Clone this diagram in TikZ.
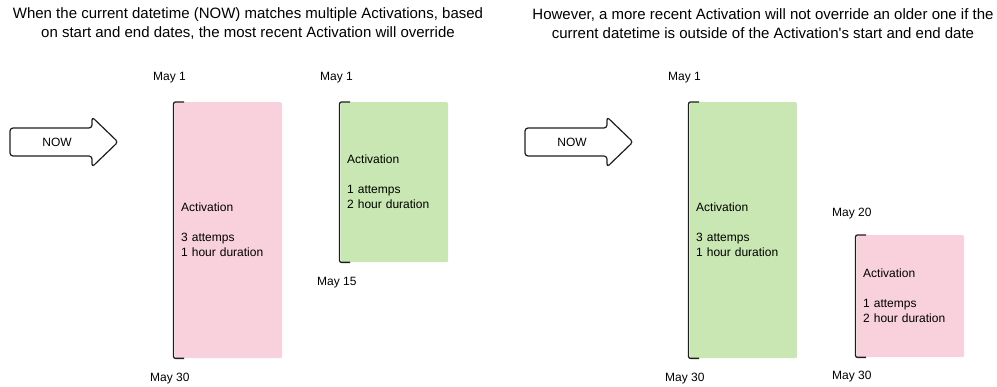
\documentclass[tikz,border=0pt]{standalone}
\usepackage{fontspec}
\setmainfont{Liberation Sans}
\usetikzlibrary{positioning,calc}
\definecolor{actpink}{HTML}{F8D1DD}
\definecolor{actgreen}{HTML}{C9E7B2}
\definecolor{inkgray}{HTML}{1E1E1E}
% bracket on the left side of an activation box
\newcommand{\datebracket}[1]{\draw[bracket] ([xshift=9pt]#1.north west) -- ([xshift=-1.5pt]#1.north west) -- ([xshift=-1.5pt]#1.south west) -- ([xshift=9pt]#1.south west);}
% the NOW arrow around a node
\newcommand{\nowarrow}[1]{\draw[nowshape] ([shift={(-47,-14)}]#1.center) -- ++(82,0) -- ++(0,-11) -- ++(26,25) -- ++(-26,25) -- ++(0,-11) -- ++(-82,0) -- cycle;}

\begin{document}
\begin{tikzpicture}[x=1pt,y=-1pt,
  act/.style={rectangle,rounded corners=2pt,minimum width=107pt,text width=95pt,inner sep=6pt,align=left,font=\fontsize{12}{15}\selectfont},
  datelbl/.style={inner sep=0pt,anchor=west,font=\fontsize{12}{14}\selectfont},
  titletext/.style={align=center,inner sep=0pt,font=\fontsize{15}{19}\selectfont},
  bracket/.style={draw=inkgray,line width=1.3pt,rounded corners=2pt},
  nowshape/.style={draw=inkgray,line width=1.2pt,rounded corners=3pt,line join=round}]
\useasboundingbox (0,0) rectangle (997,387);

\node[titletext](lefttitle) at (248,23.5) {When the current datetime (NOW) matches multiple Activations, based\\on start and end dates, the most recent Activation will override};
\node[titletext](righttitle) at (763,23.5) {However, a more recent Activation will not override an older one if the\\current datetime is outside of the Activation\textquotesingle s start and end date};

% left case
\node[font=\fontsize{12}{14}\selectfont](nowleft) at (57,142) {NOW};
\nowarrow{nowleft}
\node[act,fill=actpink,minimum height=256pt,anchor=north west](oldleft) at (175,102) {Activation\\[15pt]3 attemps\\1 hour duration};
\node[act,fill=actgreen,minimum height=160pt,anchor=north west](newleft) at (341,102) {Activation\\[15pt]1 attemps\\2 hour duration};
\datebracket{oldleft}
\datebracket{newleft}
\node[datelbl](oldleftstart) at ([xshift=-22pt,yshift=24pt]oldleft.north west) {May 1};
\node[datelbl](oldleftend) at ([xshift=-25pt,yshift=-20pt]oldleft.south west) {May 30};
\node[datelbl](newleftstart) at ([xshift=-21pt,yshift=24pt]newleft.north west) {May 1};
\node[datelbl](newleftend) at ([xshift=-24pt,yshift=-20pt]newleft.south west) {May 15};

% right case
\node[font=\fontsize{12}{14}\selectfont](nowright) at (572,142) {NOW};
\nowarrow{nowright}
\node[act,fill=actgreen,minimum height=256pt,anchor=north west](oldright) at (690,102) {Activation\\[15pt]3 attemps\\1 hour duration};
\node[act,fill=actpink,minimum height=122pt,anchor=north west](newright) at (857,235) {Activation\\[15pt]1 attemps\\2 hour duration};
\datebracket{oldright}
\datebracket{newright}
\node[datelbl](oldrightstart) at ([xshift=-22pt,yshift=24pt]oldright.north west) {May 1};
\node[datelbl](oldrightend) at ([xshift=-25pt,yshift=-20pt]oldright.south west) {May 30};
\node[datelbl](newrightstart) at ([xshift=-25pt,yshift=21pt]newright.north west) {May 20};
\node[datelbl](newrightend) at ([xshift=-25pt,yshift=-19pt]newright.south west) {May 30};
\end{tikzpicture}
\end{document}
